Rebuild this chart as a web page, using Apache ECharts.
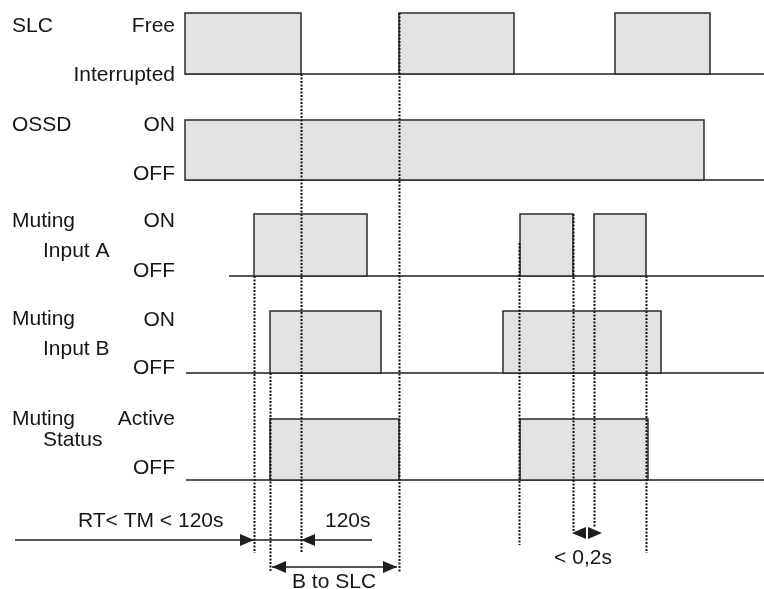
<!DOCTYPE html>
<html>
<head>
<meta charset="utf-8">
<script src="https://cdn.jsdelivr.net/npm/echarts@6/dist/echarts.min.js"></script>
<style>
  html, body { margin: 0; background: #fff; }
  #chart { width: 764px; height: 589px; }
</style>
</head>
<body>
<div id="chart"></div>
<script>
// time runs left to right, 0 = left edge of the signal area
const tEnd = 579;

const rowNames = ['SLC', 'OSSD', 'Muting', 'Muting', 'Muting'];
const rowSubNames = ['', '', 'Input A', 'Input B', 'Status'];
const highLabels = ['Free', 'ON', 'ON', 'ON', 'Active'];
const lowLabels = ['Interrupted', 'OFF', 'OFF', 'OFF', 'OFF'];

// where each signal's low line begins
const lineStart = [0, 0, 44, 1, 1];

// [rise, fall] of each high phase
const pulses = [
  [[0, 116], [214, 329], [430, 525]],
  [[0, 519]],
  [[69, 182], [335, 388], [409, 461]],
  [[85, 196], [318, 476]],
  [[85, 214], [335, 463]]
];

// dotted guide lines (time)
const guideTimes = [69, 85, 116, 214, 334, 388, 409, 461];

// measurement arrows: [from, to]
const timeoutSpan = [-170, 187];
const timeoutTips = [69, 116];
const bToSlcSpan = [87, 212];
const gapSpan = [387, 417];

const labelTimeout = 'RT< TM < 120s';
const label120 = '120s';
const labelBtoSlc = 'B to SLC';
const labelGap = '< 0,2s';

// ---- layout ----
const rowTop = [13, 120, 214, 311, 419];
const rowBottom = [74, 180, 276, 373, 480];
const guideSpan = [[276, 553], [373, 572], [74, 553], [13, 572], [243, 545], [214, 532], [276, 527], [276, 553]];
const laneTimeout = 540, laneB = 567, laneGap = 533;

const font = '"Liberation Sans", Arial, sans-serif';
const ink = '#1e1e1e';
const fill = '#e1e2e4';

const chart = echarts.init(document.getElementById('chart'));

const grids = rowTop.map((t, i) => ({ left: 185, right: 0, top: t, height: rowBottom[i] - t }));
grids.push({ left: 185, right: 0, top: 0, bottom: 0 });
const ov = grids.length - 1;

const xAxes = grids.map((g, i) => ({ gridIndex: i, type: 'value', min: 0, max: tEnd, show: false }));
const yAxes = grids.map((g, i) => i < ov
  ? { gridIndex: i, type: 'value', min: 0, max: 1, show: false }
  : { gridIndex: i, type: 'value', min: 0, max: 589, inverse: true, show: false });

const series = [];
pulses.forEach((p, i) => {
  series.push({
    type: 'line', xAxisIndex: i, yAxisIndex: i, clip: false, silent: true,
    showSymbol: false, symbol: 'none',
    data: [[lineStart[i], 0], [tEnd, 0]],
    lineStyle: { color: ink, width: 1.4 }, z: 2
  });
  series.push({
    type: 'custom', xAxisIndex: i, yAxisIndex: i, clip: false, silent: true,
    data: p,
    renderItem: (params, api) => {
      const a = api.coord([api.value(0), 1]);
      const b = api.coord([api.value(1), 0]);
      return {
        type: 'rect',
        shape: { x: a[0], y: a[1], width: b[0] - a[0], height: b[1] - a[1] },
        style: { fill: fill, stroke: '#2b2b2b', lineWidth: 1.5 }
      };
    },
    z: 3
  });
});

series.push({
  type: 'custom', xAxisIndex: ov, yAxisIndex: ov, clip: false, silent: true,
  data: guideTimes.map((t, i) => [t, guideSpan[i][0], guideSpan[i][1]]),
  renderItem: (params, api) => {
    const p1 = api.coord([api.value(0), api.value(1)]);
    const p2 = api.coord([api.value(0), api.value(2)]);
    const x = Math.round(p1[0]) + 0.5;
    return {
      type: 'line',
      shape: { x1: x, y1: p1[1], x2: x, y2: p2[1] },
      style: { stroke: '#111', lineWidth: 2, lineDash: [2, 1.5] }
    };
  },
  z: 5
});

// arrow shafts
series.push({
  type: 'custom', xAxisIndex: ov, yAxisIndex: ov, clip: false, silent: true,
  data: [
    [timeoutSpan[0], timeoutSpan[1], laneTimeout],
    [bToSlcSpan[0], bToSlcSpan[1], laneB]
  ],
  renderItem: (params, api) => {
    const p1 = api.coord([api.value(0), api.value(2)]);
    const p2 = api.coord([api.value(1), api.value(2)]);
    return {
      type: 'line',
      shape: { x1: p1[0], y1: p1[1], x2: p2[0], y2: p2[1] },
      style: { stroke: ink, lineWidth: 1.3 }
    };
  },
  z: 6
});

// arrow heads: [tip, lane, direction]
series.push({
  type: 'custom', xAxisIndex: ov, yAxisIndex: ov, clip: false, silent: true,
  data: [
    [timeoutTips[0], laneTimeout, 1],
    [timeoutTips[1], laneTimeout, -1],
    [bToSlcSpan[0], laneB, -1],
    [bToSlcSpan[1], laneB, 1],
    [gapSpan[0], laneGap, -1],
    [gapSpan[1], laneGap, 1]
  ],
  renderItem: (params, api) => {
    const tip = api.coord([api.value(0), api.value(1)]);
    const d = api.value(2);
    const len = 14, hw = 6;
    return {
      type: 'polygon',
      shape: { points: [[tip[0], tip[1]], [tip[0] - d * len, tip[1] - hw], [tip[0] - d * len, tip[1] + hw]] },
      style: { fill: ink }
    };
  },
  z: 7
});

const txt = (text, x, y, align) => ({
  type: 'text', x: x, y: y, silent: true, z: 10,
  style: { text: text, fontSize: 21, fontFamily: font, fill: '#161616', align: align || 'left', verticalAlign: 'middle' }
});

const highY = [26, 125, 221, 320, 419];
const lowY = [75, 174, 271, 368, 468];
const nameY = [26, 125, 221, 319, 419];
const subY = [0, 0, 251, 349, 440];

const graphic = [];
rowNames.forEach((n, i) => {
  graphic.push(txt(n, 12, nameY[i]));
  if (rowSubNames[i]) graphic.push(txt(rowSubNames[i], 43, subY[i]));
  graphic.push(txt(highLabels[i], 175, highY[i], 'right'));
  graphic.push(txt(lowLabels[i], 175, lowY[i], 'right'));
});
graphic.push(txt(labelTimeout, 78, 521));
graphic.push(txt(label120, 325, 521));
graphic.push(txt(labelBtoSlc, 292, 582));
graphic.push(txt(labelGap, 583, 558, 'center'));

chart.setOption({
  animation: false,
  backgroundColor: '#fff',
  grid: grids,
  xAxis: xAxes,
  yAxis: yAxes,
  series: series,
  graphic: graphic
});
</script>
</body>
</html>
